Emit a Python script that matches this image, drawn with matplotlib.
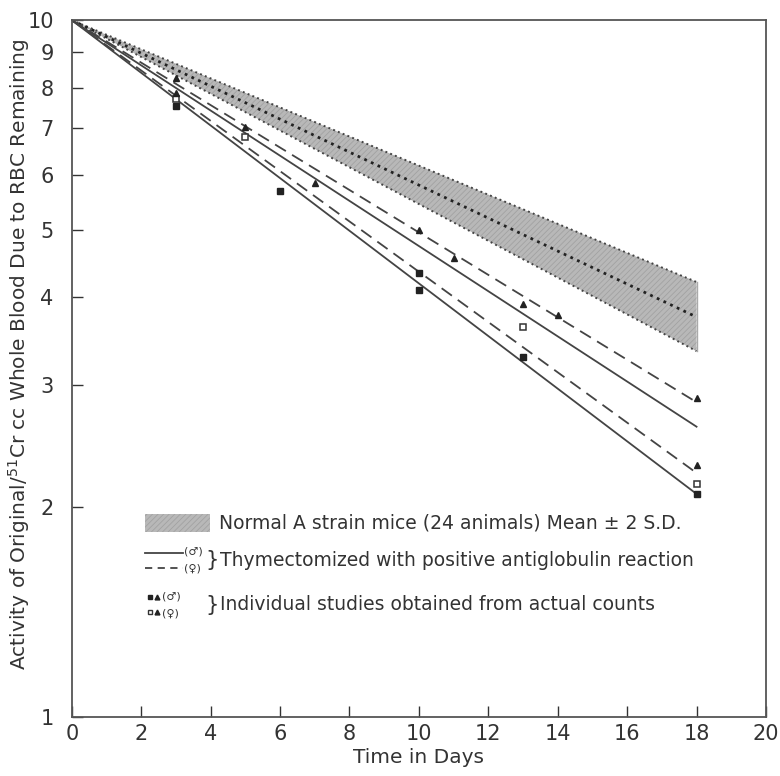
import matplotlib
matplotlib.use("Agg")
from matplotlib import pyplot as plt
from matplotlib.patches import Rectangle
from matplotlib.lines import Line2D
import numpy as np

# datos
dias = [0, 18]
banda_sup = [10, 4.21]
banda_media = [10, 3.75]
banda_inf = [10, 3.35]
macho_sup = [10, 2.61]
hembra_sup = [10, 2.83]
hembra_inf = [10, 2.24]
macho_inf = [10, 2.09]

cuad_lleno_x = [3, 6, 10, 10, 13, 18]
cuad_lleno_y = [7.53, 5.69, 4.34, 4.10, 3.29, 2.09]
cuad_vacio_x = [3, 5, 13, 18]
cuad_vacio_y = [7.70, 6.80, 3.63, 2.16]
tri_x = [3, 3, 5, 7, 10, 11, 13, 14, 18, 18]
tri_y = [8.26, 7.85, 7.03, 5.84, 5.00, 4.56, 3.92, 3.78, 2.87, 2.30]

x_ticks = list(range(0, 21, 2))
y_ticks = list(range(1, 11))

plt.rcParams['font.family'] = ['DejaVu Sans']
plt.rcParams['hatch.linewidth'] = 0.6
fig = plt.figure(figsize=(7.8, 7.76), dpi=100)
ax = fig.add_axes([0.092, 0.076, 0.890, 0.898])
ax.set_yscale('log')
ax.set_xlim(0, 20)
ax.set_ylim(1, 10)

gris = '#444444'
relleno = '#b8b8b8'
ax.fill_between(dias, banda_inf, banda_sup, facecolor=relleno, edgecolor='#a2a2a2',
                hatch='//////', linewidth=0)
ax.plot(dias, banda_sup, ':', color='#444444', lw=1.4)
ax.plot(dias, banda_inf, ':', color='#444444', lw=1.4)
ax.plot(dias, banda_media, ':', color='#222222', lw=2.0)
ax.plot([18, 18], [banda_inf[1], banda_sup[1]], '-', color='#aaaaaa', lw=1)

ax.plot(dias, macho_sup, '-', color=gris, lw=1.3)
ax.plot(dias, macho_inf, '-', color=gris, lw=1.3)
ax.plot(dias, hembra_sup, '--', color=gris, lw=1.3, dashes=(7, 4))
ax.plot(dias, hembra_inf, '--', color=gris, lw=1.3, dashes=(7, 4))

ax.plot(cuad_lleno_x, cuad_lleno_y, 's', color='#222222', ms=4.5, ls='none')
ax.plot(cuad_vacio_x, cuad_vacio_y, 's', mfc='white', mec='#333333', mew=1.1, ms=4.5, ls='none')
ax.plot(tri_x, tri_y, '^', color='#222222', ms=4, ls='none')

ax.set_xticks(x_ticks)
ax.set_xticklabels([str(v) for v in x_ticks])
ax.set_yticks(y_ticks)
ax.set_yticklabels([str(v) for v in y_ticks])
ax.yaxis.set_minor_locator(matplotlib.ticker.NullLocator())
ax.tick_params(direction='in', length=8, width=1, labelsize=15, colors='#333333')
ax.tick_params(axis='y', pad=13)
ax.tick_params(axis='x', pad=5)
for s in ax.spines.values():
    s.set_color('#555555')
    s.set_linewidth(1.3)

ax.set_xlabel('Time in Days', fontsize=14.5, color='#333333', labelpad=3)
ax.set_ylabel(r'Activity of Original/$^{51}$Cr cc Whole Blood Due to RBC Remaining',
              fontsize=14.5, color='#333333')
ax.yaxis.set_label_coords(-0.057, 0.52)

# leyenda dibujada a mano
tam = 13.5
tr = ax.transAxes
ax.add_patch(Rectangle((0.105, 0.266), 0.094, 0.025, transform=tr, facecolor=relleno,
                       edgecolor='#a2a2a2', hatch='//////', linewidth=0))
ax.text(0.212, 0.278, u'Normal A strain mice (24 animals) Mean \u00b1 2 S.D.', transform=tr,
        fontsize=tam, va='center', color='#333333')

ax.add_line(Line2D([0.106, 0.160], [0.236, 0.236], transform=tr, color=gris, lw=1.3))
ax.add_line(Line2D([0.106, 0.160], [0.214, 0.214], transform=tr, color=gris, lw=1.3,
                   ls='--', dashes=(4, 3)))
ax.text(0.162, 0.237, u'(\u2642)', transform=tr, fontsize=8, va='center', color='#333333')
ax.text(0.162, 0.213, u'(\u2640)', transform=tr, fontsize=8, va='center', color='#333333')
ax.text(0.193, 0.225, '}', transform=tr, fontsize=15, va='center', color='#333333')
ax.text(0.214, 0.225, 'Thymectomized with positive antiglobulin reaction', transform=tr,
        fontsize=tam, va='center', color='#333333')

ax.plot([0.112], [0.172], 's', transform=tr, color='#222222', ms=3.5)
ax.plot([0.123], [0.172], '^', transform=tr, color='#222222', ms=3.5)
ax.plot([0.112], [0.150], 's', transform=tr, mfc='white', mec='#333333', ms=3.5)
ax.plot([0.123], [0.150], '^', transform=tr, color='#222222', ms=3.5)
ax.text(0.130, 0.173, u'(\u2642)', transform=tr, fontsize=8, va='center', color='#333333')
ax.text(0.130, 0.149, u'(\u2640)', transform=tr, fontsize=8, va='center', color='#333333')
ax.text(0.193, 0.161, '}', transform=tr, fontsize=15, va='center', color='#333333')
ax.text(0.214, 0.161, 'Individual studies obtained from actual counts', transform=tr,
        fontsize=tam, va='center', color='#333333')

plt.savefig('out.png', dpi=100)
